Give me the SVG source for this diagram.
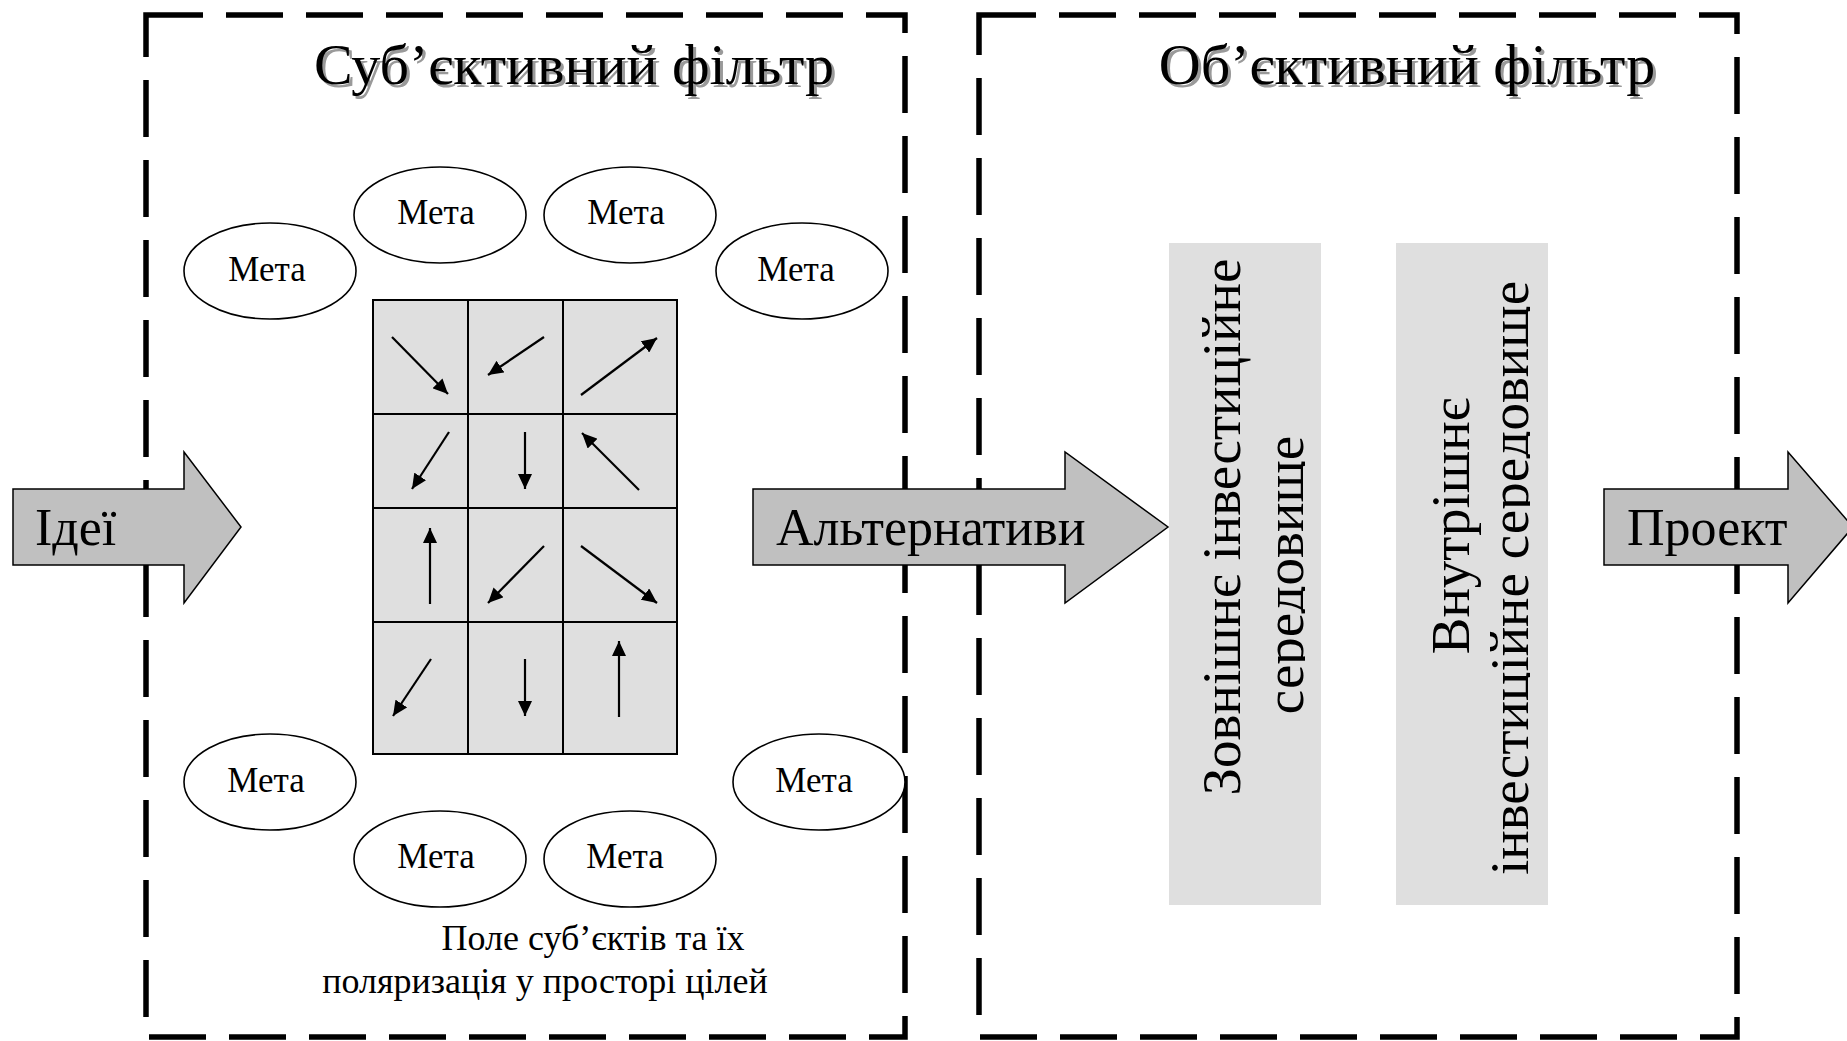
<svg xmlns="http://www.w3.org/2000/svg" width="1847" height="1041" viewBox="0 0 1847 1041">
<style>
.frame{fill:none;stroke:#000;stroke-width:5.5;stroke-dasharray:57 23}
.title{font-family:"Liberation Serif","Times New Roman",serif;font-size:58px;text-anchor:middle}
.shadow{fill:#9a9a9a}
.goal ellipse{fill:#fff;stroke:#000;stroke-width:1.6}
.goal text{font-family:"Liberation Serif","Times New Roman",serif;font-size:35px;text-anchor:middle;fill:#000}
.cap{font-family:"Liberation Serif","Times New Roman",serif;font-size:36px;text-anchor:middle;fill:#000}
.cell{fill:#dfdfdf;stroke:#000;stroke-width:2}
.vec{stroke:#000;stroke-width:2.2;fill:none;marker-end:url(#ah)}
.env{fill:#dfdfdf}
.envt{font-family:"Liberation Serif","Times New Roman",serif;font-size:55px;text-anchor:middle;fill:#000}
.blk{fill:#c0c0c0;stroke:#000;stroke-width:1.5}
.blkt{font-family:"Liberation Serif","Times New Roman",serif;font-size:52px;fill:#000}
</style>
<defs>
<marker id="ah" viewBox="0 0 15 14" refX="15" refY="7" markerWidth="15" markerHeight="14" markerUnits="userSpaceOnUse" orient="auto">
<path d="M0,0 L15,7 L0,14 z" fill="#000"/>
</marker>
<clipPath id="clip1"><rect x="1160" y="240" width="145" height="670"/></clipPath>
<clipPath id="clip2"><rect x="1390" y="240" width="140" height="670"/></clipPath>
</defs>
<rect width="1847" height="1041" fill="#fff"/>

<g id="subjective-filter">
<rect class="frame" x="146" y="15" width="759" height="1022"/>
<text class="title shadow" x="577" y="87">Суб’єктивний фільтр</text>
<text class="title" x="574" y="84">Суб’єктивний фільтр</text>
</g>

<g id="objective-filter">
<rect class="frame" x="979" y="15" width="758" height="1022"/>
<text class="title shadow" x="1410" y="87">Об’єктивний фільтр</text>
<text class="title" x="1407" y="84">Об’єктивний фільтр</text>
</g>

<g id="external-env">
<rect class="env" x="1169" y="243" width="152" height="662"/>
<text class="envt" transform="translate(1240,527) rotate(-90)">Зовнішнє інвестиційне</text>
<g clip-path="url(#clip1)"><text class="envt" transform="translate(1303,575) rotate(-90)">середовище</text></g>
</g>

<g id="internal-env">
<rect class="env" x="1396" y="243" width="152" height="662"/>
<text class="envt" transform="translate(1469,526) rotate(-90)">Внутрішнє</text>
<g clip-path="url(#clip2)"><text class="envt" transform="translate(1528,578) rotate(-90)">інвестиційне середовище</text></g>
</g>

<g id="goal-1" class="goal"><ellipse cx="270" cy="271" rx="86" ry="48"/><text x="267" y="281">Мета</text></g>
<g id="goal-2" class="goal"><ellipse cx="440" cy="215" rx="86" ry="48"/><text x="436" y="224">Мета</text></g>
<g id="goal-3" class="goal"><ellipse cx="630" cy="215" rx="86" ry="48"/><text x="626" y="224">Мета</text></g>
<g id="goal-4" class="goal"><ellipse cx="802" cy="271" rx="86" ry="48"/><text x="796" y="281">Мета</text></g>
<g id="goal-5" class="goal"><ellipse cx="270" cy="782" rx="86" ry="48"/><text x="266" y="792">Мета</text></g>
<g id="goal-6" class="goal"><ellipse cx="440" cy="859" rx="86" ry="48"/><text x="436" y="868">Мета</text></g>
<g id="goal-7" class="goal"><ellipse cx="630" cy="859" rx="86" ry="48"/><text x="625" y="868">Мета</text></g>
<g id="goal-8" class="goal"><ellipse cx="819" cy="782" rx="86" ry="48"/><text x="814" y="792">Мета</text></g>

<g id="subject-field">
<rect class="cell" x="373" y="300" width="95" height="114"/>
<rect class="cell" x="468" y="300" width="95" height="114"/>
<rect class="cell" x="563" y="300" width="114" height="114"/>
<rect class="cell" x="373" y="414" width="95" height="94"/>
<rect class="cell" x="468" y="414" width="95" height="94"/>
<rect class="cell" x="563" y="414" width="114" height="94"/>
<rect class="cell" x="373" y="508" width="95" height="114"/>
<rect class="cell" x="468" y="508" width="95" height="114"/>
<rect class="cell" x="563" y="508" width="114" height="114"/>
<rect class="cell" x="373" y="622" width="95" height="132"/>
<rect class="cell" x="468" y="622" width="95" height="132"/>
<rect class="cell" x="563" y="622" width="114" height="132"/>
<text class="cap" x="593" y="950">Поле суб’єктів та їх</text>
<text class="cap" x="545" y="993">поляризація у просторі цілей</text>
</g>

<g id="connectors">
<line class="vec" x1="392" y1="337" x2="448" y2="394"/>
<line class="vec" x1="544" y1="337" x2="488" y2="375"/>
<line class="vec" x1="581" y1="395" x2="657" y2="338"/>
<line class="vec" x1="449" y1="432" x2="412" y2="489"/>
<line class="vec" x1="525" y1="432" x2="525" y2="489"/>
<line class="vec" x1="639" y1="490" x2="582" y2="433"/>
<line class="vec" x1="430" y1="604" x2="430" y2="528"/>
<line class="vec" x1="544" y1="546" x2="488" y2="603"/>
<line class="vec" x1="581" y1="546" x2="657" y2="603"/>
<line class="vec" x1="431" y1="659" x2="393" y2="716"/>
<line class="vec" x1="525" y1="659" x2="525" y2="716"/>
<line class="vec" x1="619" y1="717" x2="619" y2="641"/>
</g>

<g id="ideas">
<polygon class="blk" points="13,489 184,489 184,452 241,527 184,603 184,565 13,565"/>
<text class="blkt" x="35" y="545">Ідеї</text>
</g>
<g id="alternatives">
<polygon class="blk" points="753,489 1065,489 1065,452 1168,527 1065,603 1065,565 753,565"/>
<text class="blkt" x="776" y="545">Альтернативи</text>
</g>
<g id="project">
<polygon class="blk" points="1604,489 1788,489 1788,452 1853,527 1788,603 1788,565 1604,565"/>
<text class="blkt" x="1627" y="545">Проект</text>
</g>
</svg>
